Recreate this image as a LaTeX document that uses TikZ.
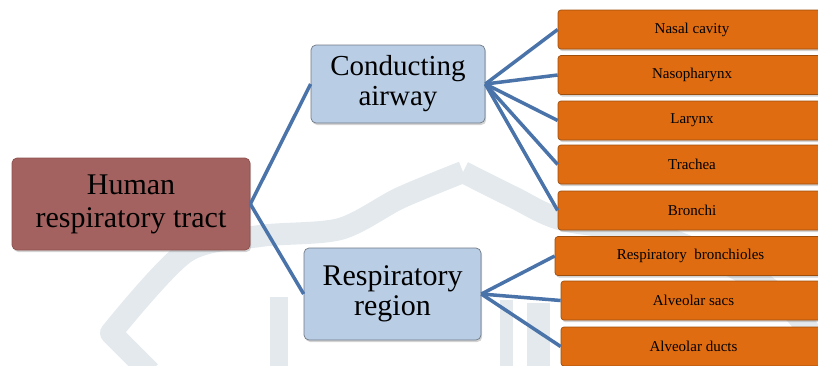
\documentclass[tikz,border=0pt]{standalone}
\usepackage{fontspec}
\setmainfont{Liberation Serif}
\newfontfamily\tnr{Liberation Serif}
\usetikzlibrary{shadows}
\definecolor{rootfill}{HTML}{A3615F}
\definecolor{rootdraw}{HTML}{8E504E}
\definecolor{midfill}{HTML}{B9CDE5}
\definecolor{middraw}{HTML}{6F7A86}
\definecolor{leaffill}{HTML}{E06C12}
\definecolor{leafdraw}{HTML}{9E4E0C}
\definecolor{linkcol}{HTML}{4A73AA}
\definecolor{wmark}{HTML}{E3E9ED}
\begin{document}
\begin{tikzpicture}[x=1pt,y=-1pt,
  box/.style={rectangle, rounded corners=5pt, inner sep=0pt, align=center, line width=0.7pt,
    drop shadow={opacity=0.35, shadow xshift=1.2pt, shadow yshift=-2pt}},
  rootbox/.style={box, draw=rootdraw, fill=rootfill, minimum width=238pt, minimum height=92pt,
    font=\tnr\fontsize{30}{33}\selectfont},
  midbox/.style={box, draw=middraw, fill=midfill},
  leaf/.style={box, rounded corners=3pt, draw=leafdraw, fill=leaffill, minimum height=39pt,
    font=\tnr\fontsize{15}{17}\selectfont},
  link/.style={draw=linkcol, line width=3.5pt},
  wm/.style={draw=wmark, line width=22pt, line join=round}
]
\useasboundingbox (0,0) rectangle (818,365);
\clip (0,0) rectangle (818,365);
% faint watermark
\draw[wm] (150,372) -- (111,333) -- plot[smooth] coordinates {(111,333) (186,252) (260,236) (340,229) (400,198) (463,172)};
\draw[wm] plot[smooth] coordinates {(463,172) (513,197) (563,220) (660,236) (757,280) (805,325) (830,370)};
\fill[wmark] (270,297) rectangle (288,370);
\fill[wmark] (500,300) rectangle (513,370);
\fill[wmark] (527,303) rectangle (550,370);
% nodes
\node[rootbox] (root) at (131,204) {Human\\respiratory tract};
\node[midbox, minimum width=174pt, minimum height=78pt, font=\tnr\fontsize{29}{30}\selectfont] (cond) at (398,84) {Conducting\\airway};
\node[midbox, minimum width=177pt, minimum height=92pt, font=\tnr\fontsize{30}{30}\selectfont] (resp) at (392.5,294) {Respiratory\\region};
\node[leaf, minimum width=268pt] (l1) at (692,29.5) {Nasal cavity};
\node[leaf, minimum width=268pt] (l2) at (692,75) {Nasopharynx};
\node[leaf, minimum width=268pt] (l3) at (692,120.5) {Larynx};
\node[leaf, minimum width=268pt] (l4) at (692,164.5) {Trachea};
\node[leaf, minimum width=268pt] (l5) at (692,210.5) {Bronchi};
\node[leaf, minimum width=271pt] (l6) at (690.5,256) {Respiratory\ \ bronchioles};
\node[leaf, minimum width=265pt] (l7) at (693.5,300.5) {Alveolar sacs};
\node[leaf, minimum width=265pt] (l8) at (693.5,346.5) {Alveolar ducts};
% connectors
\draw[link] (root.east) -- (cond.west);
\draw[link] (root.east) -- (resp.west);
\foreach \n in {l1,l2,l3,l4,l5} \draw[link] (cond.east) -- (\n.west);
\foreach \n in {l6,l7,l8} \draw[link] (resp.east) -- (\n.west);
\end{tikzpicture}
\end{document}
